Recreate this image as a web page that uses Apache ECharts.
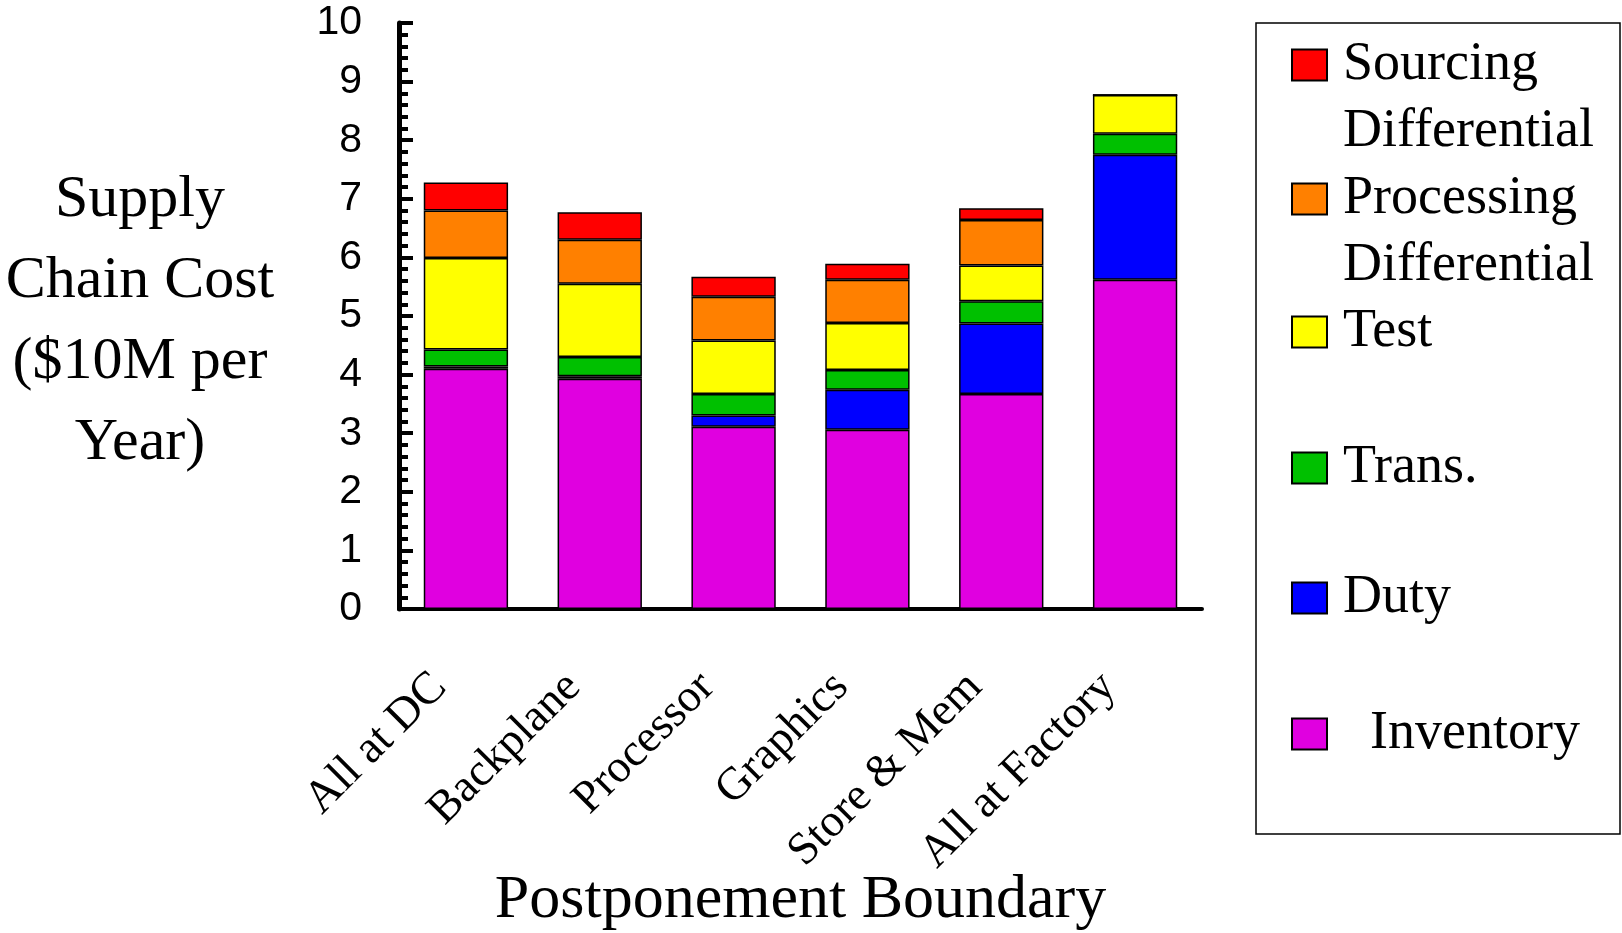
<!DOCTYPE html>
<html>
<head>
<meta charset="utf-8">
<script src="https://cdn.jsdelivr.net/npm/echarts@6/dist/echarts.min.js"></script>
<style>
  html, body { margin: 0; padding: 0; background: #fff; }
  #main { width: 1622px; height: 933px; }
</style>
</head>
<body>
<div id="main"></div>
<script>
// categories along the postponement boundary
var categories = ['All at DC', 'Backplane', 'Processor', 'Graphics', 'Store & Mem', 'All at Factory'];

// stacked cost parts, $10M per year (bottom to top)
var inventory  = [4.10, 3.93, 3.11, 3.06, 3.67, 5.62];
var duty       = [0.04, 0.04, 0.19, 0.68, 1.20, 2.13];
var trans      = [0.29, 0.33, 0.37, 0.34, 0.38, 0.36];
var test       = [1.56, 1.25, 0.91, 0.80, 0.61, 0.66];
var processing = [0.81, 0.75, 0.75, 0.74, 0.78, 0];
var sourcing   = [0.48, 0.47, 0.34, 0.27, 0.20, 0];

var yTicks = [0, 1, 2, 3, 4, 5, 6, 7, 8, 9, 10];

var serif = '"Liberation Serif", "Times New Roman", serif';
var sans = '"Liberation Sans", Arial, sans-serif';

var parts = [
    {name: 'Inventory', data: inventory, color: '#e000e0', label: '  Inventory'},
    {name: 'Duty', data: duty, color: '#0000ff', label: 'Duty'},
    {name: 'Trans.', data: trans, color: '#00c000', label: 'Trans.'},
    {name: 'Test', data: test, color: '#ffff00', label: 'Test'},
    {name: 'Processing Differential', data: processing, color: '#ff8000', label: 'Processing\nDifferential'},
    {name: 'Sourcing Differential', data: sourcing, color: '#ff0000', label: 'Sourcing\nDifferential'}
];

// legend rows, top to bottom, by icon centre
var legendRows = [
    {name: 'Sourcing Differential', y: 65},
    {name: 'Processing Differential', y: 199},
    {name: 'Test', y: 332},
    {name: 'Trans.', y: 468},
    {name: 'Duty', y: 598},
    {name: 'Inventory', y: 734}
];

var LINE_H = 67;
var labelOf = {};
parts.forEach(function (p) { labelOf[p.name] = p.label; });

var legends = legendRows.map(function (row) {
    var twoLines = labelOf[row.name].indexOf('\n') >= 0;
    // a blank first line keeps the icon level with the first text line
    var text = twoLines ? ' \n' + labelOf[row.name] : labelOf[row.name];
    return {
        data: [row.name],
        left: 1291,
        top: twoLines ? row.y - 1.5 * LINE_H : row.y - LINE_H / 2,
        padding: 0,
        icon: 'rect',
        itemWidth: 35,
        itemHeight: 31,
        itemGap: 0,
        selectedMode: false,
        formatter: function () { return text; },
        textStyle: {
            fontFamily: serif,
            fontSize: 54,
            color: '#000',
            lineHeight: LINE_H,
            padding: [0, 0, 0, 11]
        }
    };
});

var series = parts.map(function (p) {
    return {
        name: p.name,
        type: 'bar',
        stack: 'cost',
        barWidth: '63%',
        data: p.data,
        itemStyle: {color: p.color, borderColor: '#000', borderWidth: 1.5},
        emphasis: {disabled: true}
    };
});

var myChart = echarts.init(document.getElementById('main'));
myChart.setOption({
    backgroundColor: '#fff',
    animation: false,
    legend: legends,
    grid: {left: 399, right: 420, top: 23, bottom: 324, containLabel: false, outerBoundsMode: 'none'},
    graphic: [{
        type: 'rect',
        shape: {x: 1256, y: 23, width: 364, height: 811},
        style: {fill: 'none', stroke: '#000', lineWidth: 1.5},
        silent: true
    }],
    xAxis: [{
        type: 'category',
        data: categories,
        name: 'Postponement Boundary',
        nameLocation: 'middle',
        nameGap: 292,
        nameMoveOverlap: false,
        nameTextStyle: {fontFamily: serif, fontSize: 62, color: '#000', verticalAlign: 'middle'},
        axisLine: {lineStyle: {color: '#000', width: 4}},
        axisTick: {inside: true, length: 12, lineStyle: {color: '#000', width: 4}},
        axisLabel: {
            rotate: 45,
            margin: 45,
            padding: [0, 37, 0, 0],
            fontFamily: serif,
            fontSize: 46,
            color: '#000',
            interval: 0
        }
    }, {
        // half-step ticks at each bar centre
        type: 'category',
        data: categories.concat(categories).map(function () { return ''; }),
        position: 'bottom',
        axisLine: {show: false},
        axisTick: {inside: true, length: 9, lineStyle: {color: '#000', width: 4}},
        axisLabel: {show: false}
    }],
    yAxis: {
        type: 'value',
        min: yTicks[0],
        max: yTicks[yTicks.length - 1],
        interval: 1,
        // small empty first row nudges the block down a little
        name: '{gap|}\nSupply\nChain Cost\n($10M per\nYear)',
        nameLocation: 'middle',
        nameRotate: 0,
        nameGap: 259,
        nameMoveOverlap: false,
        nameTextStyle: {
            fontFamily: serif,
            fontSize: 60,
            lineHeight: 81,
            color: '#000',
            align: 'center',
            verticalAlign: 'middle',
            rich: {gap: {height: 12, lineHeight: 12, fontSize: 10}}
        },
        axisLine: {show: true, lineStyle: {color: '#000', width: 5}},
        axisTick: {show: true, inside: true, length: 14, lineStyle: {color: '#000', width: 4}},
        minorTick: {show: true, splitNumber: 5, length: 9, lineStyle: {color: '#000', width: 4}},
        splitLine: {show: false},
        axisLabel: {margin: 37, fontFamily: sans, fontSize: 41, color: '#000'}
    },
    series: series
});
</script>
</body>
</html>
